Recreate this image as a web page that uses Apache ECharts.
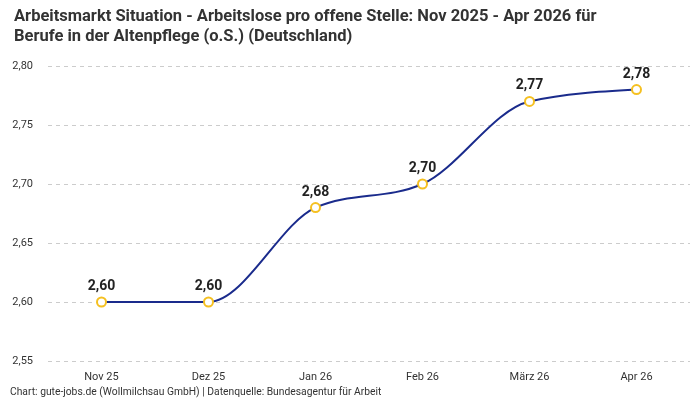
<!DOCTYPE html>
<html>
<head>
<meta charset="utf-8">
<script src="https://cdn.jsdelivr.net/npm/echarts@6/dist/echarts.min.js"></script>
<style>
html,body{margin:0;padding:0;background:#fff;}
#chart{width:700px;height:400px;}
</style>
</head>
<body>
<div id="chart"></div>
<script>
const categories = ['Nov 25', 'Dez 25', 'Jan 26', 'Feb 26', 'März 26', 'Apr 26'];
const values = [2.60, 2.60, 2.68, 2.70, 2.77, 2.78];
const yMin = 2.55, yMax = 2.80, yStep = 0.05;

const fmt = v => Number(v).toFixed(2).replace('.', ',');
const FONT = 'Roboto, "Noto Sans", sans-serif';

// monotone-X cubic path through pixel points (d3 curveMonotoneX)
function monotonePath(pts) {
  const n = pts.length;
  const sign = x => x < 0 ? -1 : 1;
  const t = new Array(n);
  for (let i = 1; i < n - 1; i++) {
    const h0 = pts[i][0] - pts[i-1][0], h1 = pts[i+1][0] - pts[i][0];
    const s0 = (pts[i][1] - pts[i-1][1]) / h0, s1 = (pts[i+1][1] - pts[i][1]) / h1;
    const p = (s0 * h1 + s1 * h0) / (h0 + h1);
    t[i] = (sign(s0) + sign(s1)) * Math.min(Math.abs(s0), Math.abs(s1), 0.5 * Math.abs(p)) || 0;
  }
  const sl = (a, b) => (b[1] - a[1]) / (b[0] - a[0]);
  t[0] = (3 * sl(pts[0], pts[1]) - t[1]) / 2;
  t[n-1] = (3 * sl(pts[n-2], pts[n-1]) - t[n-2]) / 2;
  let d = 'M' + pts[0][0] + ',' + pts[0][1];
  for (let i = 0; i < n - 1; i++) {
    const a = pts[i], b = pts[i+1], dx = (b[0] - a[0]) / 3;
    d += 'C' + (a[0] + dx) + ',' + (a[1] + dx * t[i]) + ',' + (b[0] - dx) + ',' + (b[1] - dx * t[i+1]) + ',' + b[0] + ',' + b[1];
  }
  return d;
}

const chart = echarts.init(document.getElementById('chart'));
chart.setOption({
  animation: false,
  textStyle: { fontFamily: FONT },
  title: [{
    text: 'Arbeitsmarkt Situation - Arbeitslose pro offene Stelle: Nov 2025 - Apr 2026 für\nBerufe in der Altenpflege (o.S.) (Deutschland)',
    left: 9, top: 2,
    textStyle: { fontSize: 16.5, fontWeight: 'bold', color: '#333', lineHeight: 20, fontFamily: FONT }
  }, {
    text: 'Chart: gute-jobs.de (Wollmilchsau GmbH) | Datenquelle: Bundesagentur für Arbeit',
    left: 10, top: 387,
    padding: 0,
    textStyle: { fontSize: 10.3, fontWeight: 'normal', color: '#333', fontFamily: FONT }
  }],
  grid: { left: 48, right: 10, top: 66, bottom: 39, containLabel: false },
  xAxis: {
    type: 'category', data: categories, boundaryGap: true,
    axisLine: { show: false }, axisTick: { show: false },
    axisLabel: { color: '#333', fontSize: 11, margin: 11 }
  },
  yAxis: {
    type: 'value', min: yMin, max: yMax, interval: yStep,
    axisLine: { show: false }, axisTick: { show: false },
    axisLabel: { color: '#333', fontSize: 11, margin: 15, formatter: v => fmt(v) },
    splitLine: { lineStyle: { type: [4, 4], color: '#ccc' } }
  },
  series: [{
    type: 'custom',
    data: values.map((v, i) => [i, v]),
    encode: { x: 0, y: 1 },
    z: 2,
    renderItem: function (params, api) {
      if (params.dataIndex !== 0) return null;
      const pts = values.map((v, i) => api.coord([i, v]));
      return {
        type: 'path',
        shape: { pathData: monotonePath(pts) },
        style: { fill: null, stroke: '#1a2b8c', lineWidth: 2 }
      };
    }
  }, {
    type: 'line', data: values, z: 3,
    symbol: 'circle', symbolSize: 9,
    lineStyle: { width: 0, opacity: 0 },
    itemStyle: { color: '#fff', borderColor: '#f5c021', borderWidth: 2 },
    label: { show: true, position: 'top', distance: 3, formatter: p => fmt(p.value), fontSize: 14, fontWeight: 'bold', color: '#222' }
  }]
});
</script>
</body>
</html>
